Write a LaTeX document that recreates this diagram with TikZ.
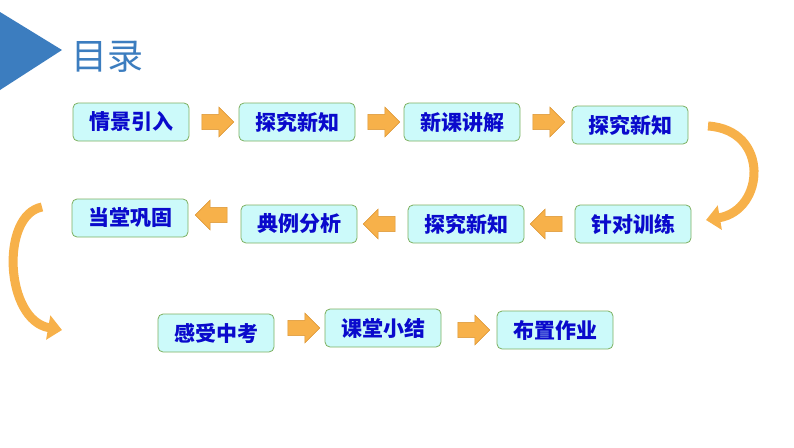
\documentclass[tikz,border=0pt]{standalone}
\usepackage{fontspec}
\newfontfamily\cjk{Noto Sans CJK SC}
\usetikzlibrary{shapes.arrows,arrows.meta}
\definecolor{tb}{HTML}{3C7DBF}
\definecolor{bx}{HTML}{CCFAFA}
\definecolor{bd}{HTML}{7DB060}
\definecolor{tx}{HTML}{0A0ACC}
\definecolor{ar}{HTML}{F7B14A}
\definecolor{ard}{HTML}{D9922E}
\tikzset{
 item/.style={draw=bd,fill=bx,rounded corners=5pt,line width=0.8pt,minimum width=116pt,minimum height=38pt,font=\cjk\fontsize{21}{21}\selectfont\bfseries,text=tx},
 sarrow/.style={single arrow,draw=ard,fill=ar,minimum height=32pt,minimum width=30pt,single arrow head extend=6pt,inner sep=6pt,line width=0.5pt},
 curv/.style={draw=ar,line width=9pt,-{Triangle[length=14pt,width=24pt]}}
}
\begin{document}
\begin{tikzpicture}[x=1pt,y=-1pt]
\useasboundingbox (0,0) rectangle (794,447);
\fill[tb] (0,12) -- (62,50) -- (0,90) -- cycle;
\node[font=\cjk\fontsize{36}{36}\selectfont,text=tb,anchor=west] (title) at (68,57) {目录};
\node[item] (a1) at (131,122) {情景引入};
\node[item] (a2) at (297,122) {探究新知};
\node[item] (a3) at (462,122) {新课讲解};
\node[item] (a4) at (630,125) {探究新知};
\node[item] (b4) at (633,224) {针对训练};
\node[item] (b3) at (466,224) {探究新知};
\node[item] (b2) at (299,224) {典例分析};
\node[item] (b1) at (130,218) {当堂巩固};
\node[item] (c1) at (216,333) {感受中考};
\node[item] (c2) at (383,328) {课堂小结};
\node[item] (c3) at (555,330) {布置作业};
\node[sarrow] (s1) at (214,122) {};
\node[sarrow] (s2) at (380,122) {};
\node[sarrow] (s3) at (545,122) {};
\node[sarrow,shape border rotate=180] (s4) at (550,224) {};
\node[sarrow,shape border rotate=180] (s5) at (383,224) {};
\node[sarrow,shape border rotate=180] (s6) at (215,215) {};
\node[sarrow] (s7) at (300,328) {};
\node[sarrow] (s8) at (470,330) {};
\coordinate (r1) at (708,126);
\coordinate (r2) at (706,220);
\coordinate (l1) at (42,207);
\coordinate (l2) at (62,330);
\draw[curv] (r1) .. controls (770,130) and (765,210) .. (r2);
\draw[curv] (l1) .. controls (0,215) and (5,320) .. (l2);
\end{tikzpicture}
\end{document}
